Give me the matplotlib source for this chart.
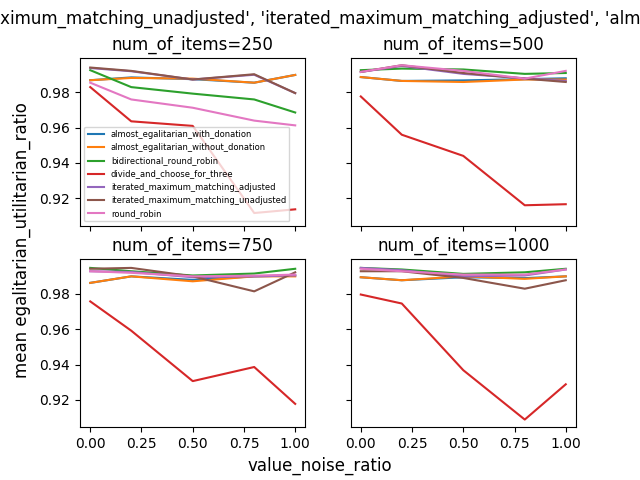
import matplotlib
matplotlib.use("Agg")
import matplotlib.pyplot as plt

noise = [0.0, 0.2, 0.5, 0.8, 1.0]
item_counts = [250, 500, 750, 1000]
algorithms = ['almost_egalitarian_with_donation', 'almost_egalitarian_without_donation',
              'bidirectional_round_robin', 'divide_and_choose_for_three',
              'iterated_maximum_matching_adjusted', 'iterated_maximum_matching_unadjusted',
              'round_robin']
title_algorithms = ['divide_and_choose_for_three', 'iterated_maximum_matching_unadjusted',
                    'iterated_maximum_matching_adjusted', 'almost_egalitarian_with_donation',
                    'round_robin']

# results[num_items][algorithm] -> mean ratio per noise level
aewd_250 = [0.9869, 0.9885, 0.9875, 0.9855, 0.9899]
aewod_250 = [0.9869, 0.9882, 0.9878, 0.9855, 0.9899]
brr_250 = [0.9926, 0.9830, 0.9793, 0.9760, 0.9686]
dcft_250 = [0.9830, 0.9636, 0.9610, 0.9116, 0.9137]
imma_250 = [0.9938, 0.9920, 0.9873, 0.9900, 0.9796]
immu_250 = [0.9941, 0.9922, 0.9873, 0.9903, 0.9796]
rr_250 = [0.9855, 0.9760, 0.9713, 0.9640, 0.9613]

aewd_500 = [0.9887, 0.9865, 0.9868, 0.9875, 0.9880]
aewod_500 = [0.9887, 0.9865, 0.9859, 0.9873, 0.9873]
brr_500 = [0.9926, 0.9935, 0.9930, 0.9905, 0.9910]
dcft_500 = [0.9777, 0.9560, 0.9440, 0.9160, 0.9166]
imma_500 = [0.9916, 0.9950, 0.9905, 0.9880, 0.9865]
immu_500 = [0.9916, 0.9954, 0.9910, 0.9878, 0.9859]
rr_500 = [0.9916, 0.9954, 0.9922, 0.9878, 0.9922]

aewd_750 = [0.9863, 0.9900, 0.9880, 0.9900, 0.9905]
aewod_750 = [0.9863, 0.9900, 0.9872, 0.9900, 0.9900]
brr_750 = [0.9948, 0.9929, 0.9905, 0.9916, 0.9943]
dcft_750 = [0.9758, 0.9592, 0.9306, 0.9386, 0.9177]
imma_750 = [0.9929, 0.9925, 0.9895, 0.9900, 0.9905]
immu_750 = [0.9943, 0.9948, 0.9900, 0.9815, 0.9923]
rr_750 = [0.9929, 0.9920, 0.9900, 0.9904, 0.9910]

aewd_1000 = [0.9895, 0.9878, 0.9895, 0.9890, 0.9900]
aewod_1000 = [0.9895, 0.9878, 0.9900, 0.9886, 0.9900]
brr_1000 = [0.9948, 0.9939, 0.9914, 0.9923, 0.9943]
dcft_1000 = [0.9797, 0.9746, 0.9368, 0.9088, 0.9288]
imma_1000 = [0.9948, 0.9935, 0.9900, 0.9905, 0.9939]
immu_1000 = [0.9929, 0.9929, 0.9891, 0.9830, 0.9878]
rr_1000 = [0.9943, 0.9929, 0.9910, 0.9910, 0.9939]

results = {
    250: [aewd_250, aewod_250, brr_250, dcft_250, imma_250, immu_250, rr_250],
    500: [aewd_500, aewod_500, brr_500, dcft_500, imma_500, immu_500, rr_500],
    750: [aewd_750, aewod_750, brr_750, dcft_750, imma_750, immu_750, rr_750],
    1000: [aewd_1000, aewod_1000, brr_1000, dcft_1000, imma_1000, immu_1000, rr_1000],
}

fig, axes = plt.subplots(2, 2, sharex=True, sharey=True, figsize=(6.4, 4.8))
for ax, n in zip(axes.flat, item_counts):
    for name, vals in zip(algorithms, results[n]):
        ax.plot(noise, vals, label=name)
    ax.set_title(f"num_of_items={n}")
axes[0, 0].set_xticks([0.0, 0.25, 0.5, 0.75, 1.0])
axes[0, 0].legend(fontsize=6, loc='lower left')

fig.suptitle(str(title_algorithms), x=0.505)
fig.supxlabel("value_noise_ratio")
fig.supylabel("mean egalitarian_utilitarian_ratio")
plt.savefig("out.png", dpi=100)
